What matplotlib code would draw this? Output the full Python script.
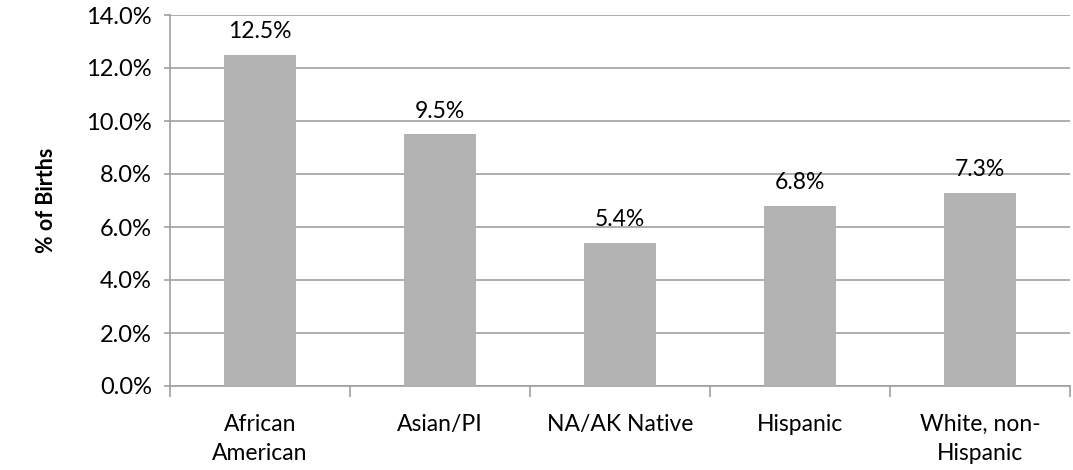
import matplotlib
matplotlib.use("Agg")
import matplotlib.pyplot as plt
from matplotlib.ticker import FuncFormatter, MultipleLocator

categories = ["African\nAmerican", "Asian/PI", "NA/AK Native", "Hispanic", "White, non-\nHispanic"]
values = [12.5, 9.5, 5.4, 6.8, 7.3]
value_labels = ["12.5%", "9.5%", "5.4%", "6.8%", "7.3%"]

plt.rcParams['font.family'] = ['Lato', 'DejaVu Sans']

fig = plt.figure(figsize=(10.73, 4.70), dpi=100)
ax = fig.add_axes([170/1073, 1-386/470, 900/1073, 371/470])

x = list(range(len(categories)))
ax.bar(x, values, width=0.405, color="#b3b3b3", zorder=3)
for xi, v, lab in zip(x, values, value_labels):
    ax.annotate(lab, (xi, v), xytext=(0, 9), textcoords="offset points",
                ha="center", va="bottom", fontsize=16.5, color="#000000")

ax.set_xlim(-0.5, len(categories) - 0.5)
ax.set_ylim(0, 14)
ax.yaxis.set_major_locator(MultipleLocator(2))
ax.yaxis.set_major_formatter(FuncFormatter(lambda v, p: f"{v:.1f}%"))
ax.grid(axis="y", color="#a0a0a0", linewidth=1.2, zorder=0)

ax.set_xticks([i - 0.5 for i in range(len(categories) + 1)], minor=False)
ax.set_xticklabels([""] * (len(categories) + 1))
ax.set_xticks(x, minor=True)
ax.set_xticklabels(categories, minor=True, fontsize=16.5, linespacing=1.5)
ax.tick_params(axis="x", which="minor", length=0, pad=20)
ax.tick_params(axis="x", which="major", length=8, color="#a0a0a0", width=1.2)
ax.tick_params(axis="y", length=4, color="#a0a0a0", width=1.2, labelsize=17, pad=9)

for s in ["top", "right"]:
    ax.spines[s].set_visible(False)
for s in ["left", "bottom"]:
    ax.spines[s].set_color("#a0a0a0")
    ax.spines[s].set_linewidth(1.2)

ax.set_ylabel("% of Births", fontsize=15.5, fontweight="bold")
ax.yaxis.set_label_coords(-113/900, 0.5)

fig.savefig("out.png", dpi=100)
